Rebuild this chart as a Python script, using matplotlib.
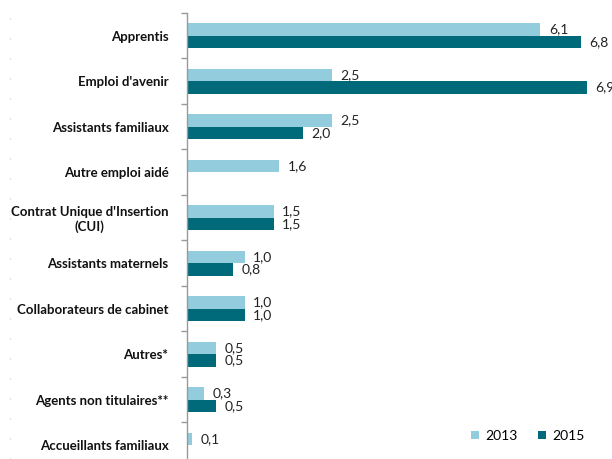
import matplotlib.pyplot as plt
import numpy as np

plt.rcParams['font.family'] = ['Lato', 'DejaVu Sans']

categories = ["Apprentis", "Emploi d'avenir", "Assistants familiaux", "Autre emploi aidé",
              "Contrat Unique d'Insertion\n(CUI)", "Assistants maternels",
              "Collaborateurs de cabinet", "Autres*", "Agents non titulaires**",
              "Accueillants familiaux"]
v2013 = [6.1, 2.5, 2.5, 1.6, 1.5, 1.0, 1.0, 0.5, 0.3, 0.1]
v2015 = [6.8, 6.9, 2.0, None, 1.5, 0.8, 1.0, 0.5, 0.5, None]
labels2013 = ["6,1", "2,5", "2,5", "1,6", "1,5", "1,0", "1,0", "0,5", "0,3", "0,1"]
labels2015 = ["6,8", "6,9", "2,0", "", "1,5", "0,8", "1,0", "0,5", "0,5", ""]

c13 = '#93CDDD'
c15 = '#006A7A'

fig = plt.figure(figsize=(6.12, 4.59), dpi=100)
# axes run below the bottom edge, as in the cropped original
ax = fig.add_axes([186.5 / 612, -9 / 459, 420 / 612, 455 / 459])

y = np.arange(len(categories))
h = 0.275
a13 = [v if v is not None else 0 for v in v2013]
a15 = [v if v is not None else 0 for v in v2015]
ax.barh(y - h / 2, a13, height=h, color=c13, label='2013')
ax.barh(y + h / 2, a15, height=h, color=c15, label='2015')

for i in range(len(categories)):
    if v2013[i] is not None:
        ax.text(a13[i] + 0.15, y[i] - h / 2, labels2013[i], va='center', ha='left',
                fontsize=10, color='#222222')
    if v2015[i] is not None:
        ax.text(a15[i] + 0.15, y[i] + h / 2, labels2015[i], va='center', ha='left',
                fontsize=10, color='#222222')

ax.set_xlim(0, 7.24)
ax.set_ylim(len(categories) - 0.5, -0.5)
ax.set_yticks(y)
ax.set_yticklabels(categories, fontsize=9.5, fontweight='bold', ha='right',
                   multialignment='center', color='#111111')
ax.set_yticks(np.arange(len(categories) + 1) - 0.5, minor=True)
ax.tick_params(axis='y', which='major', length=0, pad=13)
ax.tick_params(axis='y', which='minor', length=4, color='#999999', width=1)
ax.set_xticks([])
for s in ['top', 'right', 'bottom']:
    ax.spines[s].set_visible(False)
ax.spines['left'].set_color('#999999')
ax.spines['left'].set_linewidth(1)

fig.legend(loc='lower right', bbox_to_anchor=(0.975, 0.01), ncol=2, frameon=False,
           fontsize=10, handlelength=0.6, handleheight=0.6, columnspacing=1.5,
           handletextpad=0.4)

# faint dotted border on the left
fig.add_artist(plt.Line2D([10 / 612, 10 / 612], [0, 1], color='#cccccc',
                          linestyle=(0, (1, 17)), linewidth=0.8))

fig.savefig('out.png', dpi=100)
